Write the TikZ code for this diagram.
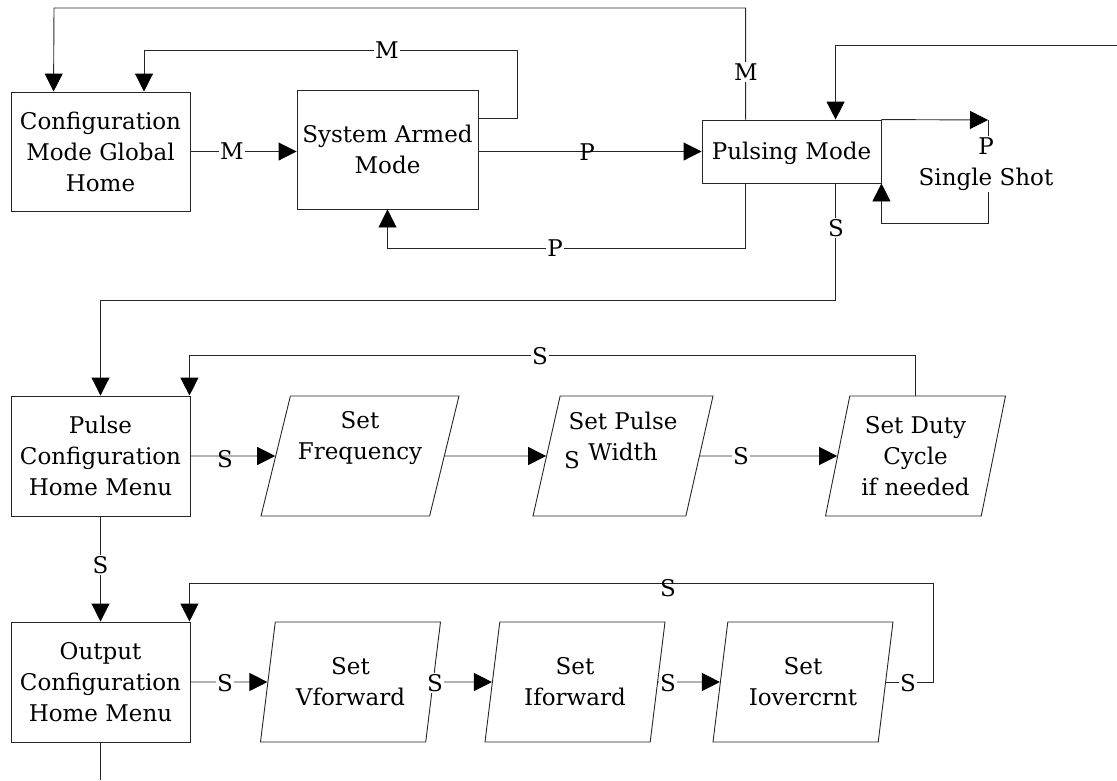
\documentclass[tikz,border=0pt]{standalone}
\usepackage{fontspec}
\setmainfont{DejaVu Serif}
\usetikzlibrary{arrows.meta,shapes.geometric,calc}
\begin{document}
\begin{tikzpicture}[x=1pt,y=-1pt,
  every node/.style={font=\fontsize{23}{31}\selectfont},
  box/.style={draw=black!85, line width=0.9pt, rectangle, align=center, inner sep=0pt},
  para/.style={draw=black!85, line width=0.9pt, trapezium, trapezium left angle=73,
    trapezium right angle=107, trapezium stretches body, align=center, inner sep=0pt,
    minimum height=120pt, minimum width=180pt},
  wire/.style={draw=black!85, line width=0.9pt},
  arr/.style={wire, -{Triangle[length=18pt,width=18pt,color=black]}},
  lbl/.style={fill=white, inner sep=1.5pt},
  lbln/.style={inner sep=0pt}
]
\useasboundingbox (0,0) rectangle (1117,780);

% mode boxes
\node[box, minimum width=179pt, minimum height=119pt] (cmgh) at (100.5,151.5) {Configuration\\Mode Global\\Home};
\node[box, minimum width=181pt, minimum height=119pt] (sam) at (387.5,149.5) {System Armed\\Mode};
\node[box, minimum width=179pt, minimum height=63pt, text depth=2pt] (pm) at (791.5,151.5) {Pulsing Mode};
\node[box, minimum width=179pt, minimum height=120pt] (pchm) at (100.5,456) {Pulse\\Configuration\\Home Menu};
\node[box, minimum width=179pt, minimum height=120pt] (ochm) at (100.5,682) {Output\\Configuration\\Home Menu};

% setting steps
\node[para, minimum width=198pt, trapezium left angle=71.6, trapezium right angle=108.4] (sf) at (360,456) {Set\\Frequency\\\strut};
\node[para] (spw) at (623,456) {Set Pulse\\Width\\\strut};
\node[para] (duty) at (915.5,456) {Set Duty\\Cycle\\if needed};
\node[para] (vf) at (350.5,682) {Set\\Vforward};
\node[para] (ifw) at (575,682) {Set\\Iforward};
\node[para] (io) at (803,682) {Set\\Iovercrnt};

% routing points
\coordinate (topRoute) at (54,8);
\coordinate (mloop) at (517,50);
\coordinate (ext) at (1117,45);
\coordinate (ssTop) at (988,120);
\coordinate (ssBot) at (988,223);
\coordinate (loopR) at (933,583);
\coordinate (exitB) at (100.5,780);

% connectors
\draw[arr] (cmgh.east) -- (cmgh.east -| sam.west);
\draw[arr] (sam.east |- pm.west) -- (pm.west);
\draw[arr] ($(sam.north east)+(0,29)$) -| (mloop) -| ($(cmgh.north)+(43.5,0)$);
\draw[arr] ($(pm.north west)+(44,0)$) |- (topRoute) -- ($(cmgh.north west)+(43,0)$);
\draw[arr] (ext) -| ($(pm.north west)+(134,0)$);
\draw[arr] (pm.north east) -- (ssTop);
\draw[arr] (ssTop) -- (ssBot) -| (pm.south east);
\draw[arr] ($(pm.south west)+(44,0)$) |- ($(sam.south)+(0,39)$) -- (sam.south);
\draw[arr] ($(pm.south west)+(134,0)$) |- ($(pchm.north)+(0,-95)$) -- (pchm.north);
\draw[arr] (pchm) -- (sf);
\draw[arr] (sf) -- (spw);
\draw[arr] (spw) -- (duty);
\draw[arr] (duty.north) |- ($(pchm.north east)+(-1,-40)$) -- ($(pchm.north east)+(-1,0)$);
\draw[arr] (pchm.south) -- (ochm.north);
\draw[arr] (ochm) -- (vf);
\draw[arr] (vf) -- (ifw);
\draw[arr] (ifw) -- (io);
\draw[arr] (io) -| (loopR) -| ($(ochm.north east)+(-1,0)$);
\draw[wire] (ochm.south) -- (exitB);

% connector labels
\node[lbl] (lM1) at (232,151.5) {M};
\node[lbln] (lP1) at (587,152) {P};
\node[lbl] (lM2) at (387,50) {M};
\node[lbl] (lM3) at (746,72) {M};
\node[lbl, align=center] (ss) at (986,164) {P\\Single Shot};
\node[lbl] (lP2) at (555,248) {P};
\node[lbl] (lS1) at (836,228) {S};
\node[lbln] (lS2) at (225,459) {S};
\node[lbln] (lS3) at (572,460) {S};
\node[lbl] (lS4) at (741,456) {S};
\node[lbl] (lS5) at (540,356) {S};
\node[lbl] (lS6) at (100.5,565) {S};
\node[lbl] (lS7) at (225,683) {S};
\node[lbl] (lS8) at (435,683) {S};
\node[lbl] (lS9) at (668,683) {S};
\node[lbln] (lS10) at (668,588) {S};
\node[lbl] (lS11) at (908,683) {S};
\end{tikzpicture}
\end{document}
